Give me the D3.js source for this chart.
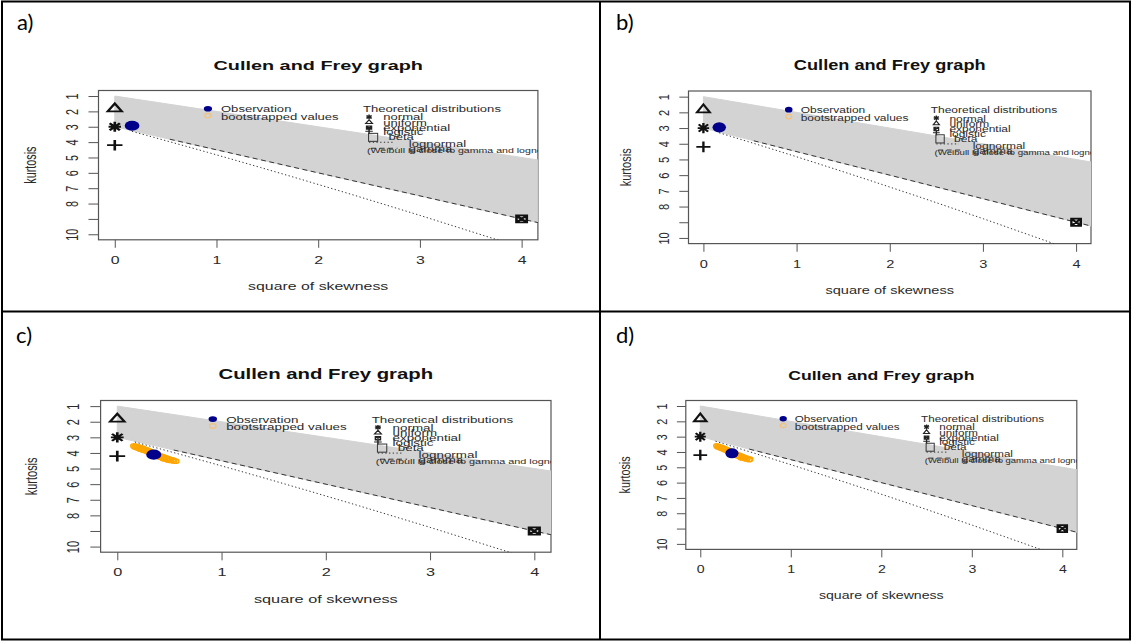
<!DOCTYPE html>
<html>
<head>
<meta charset="utf-8">
<script src="https://cdn.jsdelivr.net/npm/d3@7"></script>
<style>
  html, body { margin: 0; padding: 0; background: #fff; }
  svg { display: block; }
</style>
</head>
<body>
<svg id="fig" width="1132" height="641"></svg>
<script>
// ---------------- data ----------------
const panelLabels = ["a)", "b)", "c)", "d)"];

const skewTicks = [0, 1, 2, 3, 4];
const kurtTicks = [1, 2, 3, 4, 5, 6, 7, 8, 9, 10];
// R drops the "9" label because it collides with "10"
const kurtTickLabels = ["1", "2", "3", "4", "5", "6", "7", "8", "", "10"];

// observed (square of skewness, kurtosis) per panel
const obsSkew2 = [0.17, 0.17, 0.35, 0.35];
const obsKurt  = [2.93, 2.95, 4.11, 4.09];

// bootstrapped (square of skewness, kurtosis) per panel
const bootA = [[0.15, 2.88], [0.16, 2.95], [0.17, 2.90], [0.18, 2.97], [0.19, 2.92], [0.16, 2.99],
               [0.18, 2.86], [0.17, 3.01], [0.15, 2.93], [0.19, 2.96], [0.17, 2.84], [0.18, 2.91]];
const bootB = [[0.15, 2.90], [0.16, 2.97], [0.17, 2.92], [0.18, 2.99], [0.19, 2.94], [0.16, 3.01],
               [0.18, 2.88], [0.17, 3.03], [0.15, 2.95], [0.19, 2.98], [0.17, 2.86], [0.18, 2.93]];
const bootC = [[0.16, 3.55], [0.17, 3.62], [0.18, 3.58], [0.19, 3.66], [0.20, 3.61], [0.21, 3.71],
               [0.22, 3.66], [0.23, 3.76], [0.24, 3.70], [0.25, 3.82], [0.26, 3.75], [0.27, 3.86],
               [0.28, 3.80], [0.29, 3.92], [0.30, 3.86], [0.31, 3.97], [0.32, 3.91], [0.33, 4.03],
               [0.34, 3.98], [0.36, 4.08], [0.37, 4.15], [0.38, 4.10], [0.39, 4.21], [0.40, 4.15],
               [0.41, 4.27], [0.42, 4.20], [0.43, 4.31], [0.44, 4.25], [0.45, 4.37], [0.46, 4.30],
               [0.47, 4.41], [0.48, 4.35], [0.49, 4.45], [0.50, 4.39], [0.51, 4.48], [0.53, 4.44],
               [0.54, 4.51], [0.56, 4.53], [0.22, 3.74], [0.27, 3.79], [0.44, 4.36], [0.48, 4.42]];
const bootD = [[0.18, 3.60], [0.19, 3.66], [0.20, 3.63], [0.21, 3.70], [0.22, 3.66], [0.23, 3.75],
               [0.24, 3.71], [0.25, 3.80], [0.26, 3.76], [0.27, 3.85], [0.28, 3.81], [0.29, 3.91],
               [0.30, 3.86], [0.31, 3.96], [0.32, 3.92], [0.33, 4.02], [0.34, 3.97], [0.36, 4.07],
               [0.37, 4.13], [0.38, 4.09], [0.39, 4.19], [0.40, 4.14], [0.41, 4.24], [0.42, 4.19],
               [0.43, 4.29], [0.44, 4.24], [0.45, 4.34], [0.46, 4.29], [0.47, 4.39], [0.48, 4.34],
               [0.49, 4.43], [0.50, 4.38], [0.51, 4.46], [0.52, 4.42], [0.54, 4.50], [0.55, 4.47],
               [0.25, 3.74], [0.29, 3.86], [0.45, 4.38], [0.49, 4.40]];
const bootSets = [bootA, bootB, bootC, bootD];

// reference distributions drawn as single points
const theoNames = ["normal", "uniform", "exponential", "logistic"];
const theoSkew2 = [0, 0, 4, 0];
const theoKurt  = [3, 1.8, 9, 4.2];
const theoShape = ["asterisk", "triangle", "boxx", "plus"];

// beta region: between kurtosis = 1 + skew² and the gamma line 3 + 1.5·skew²
const betaRegion = [[0, 1], [5, 6], [5, 10.5], [0, 3]];
// gamma line, from shape = e^2 outwards
const gammaLine = [[0.541, 3.812], [5, 10.5]];
// lognormal family traced over log(sigma) in [-2, 2]
const lognormalLogSigma = d3.range(-2, 2.0001, 0.1);

const titleText = "Cullen and Frey graph";
const xTitle = "square of skewness";
const yTitle = "kurtosis";
const obsLegendLabels = ["Observation", "bootstrapped values"];
const theoLegendTitle = "Theoretical distributions";
const theoLegendLabels = ["normal", "uniform", "exponential", "logistic", "beta", "lognormal", "gamma"];
const weibullNote = "(Weibull is close to gamma and lognormal)";

// ---------------- layout ----------------
const FONT = "'Liberation Sans', Arial, Helvetica, sans-serif";
const svg = d3.select("#fig");

// plot boxes [left, right, top, bottom] and label anchors of the four cells
const panelBoxes = [
  [98.5, 537.9, 90.5, 239.8],
  [688.5, 1091.0, 91.0, 243.6],
  [100.6, 551.0, 400.5, 552.2],
  [685.8, 1076.8, 400.5, 549.4]
];
const labelAnchors = [[17, 30], [616, 30], [16, 343], [616, 343]];

// lognormal curve; only the part near the plotting window is kept
const lognormalPts = lognormalLogSigma.map(ls => {
  const s = Math.exp(ls);
  const w = Math.exp(s * s);
  return [(w + 2) * (w + 2) * (w - 1), w ** 4 + 2 * w ** 3 + 3 * w ** 2 - 3];
}).filter(p => p[1] < 40);

function addText(parent, str, x, y, fs, o = {}) {
  let tr = `translate(${x},${y}) scale(${o.sx || 1},1)`;
  if (o.rotate) tr += ` rotate(${o.rotate})`;
  const t = parent.append("text")
    .attr("transform", tr)
    .attr("font-family", FONT)
    .attr("font-size", fs)
    .attr("text-anchor", o.anchor || "start")
    .attr("dy", "0.35em")
    .attr("fill", o.fill || "#2a2a2a")
    .text(str);
  if (o.bold) t.attr("font-weight", "bold");
  return t;
}

function marker(parent, shape, cx, cy, h, sx, sw, color) {
  const g = parent.append("g").attr("transform", `translate(${cx},${cy}) scale(${sx},1)`);
  const p = d3.path();
  if (shape === "asterisk") {
    p.moveTo(-0.85 * h, 0); p.lineTo(0.85 * h, 0);
    p.moveTo(0, -h); p.lineTo(0, h);
    p.moveTo(-0.7 * h, -0.7 * h); p.lineTo(0.7 * h, 0.7 * h);
    p.moveTo(-0.7 * h, 0.7 * h); p.lineTo(0.7 * h, -0.7 * h);
  } else if (shape === "triangle") {
    p.moveTo(0, -0.95 * h); p.lineTo(0.95 * h, 0.6 * h); p.lineTo(-0.95 * h, 0.6 * h); p.closePath();
  } else if (shape === "plus") {
    p.moveTo(-1.05 * h, 0); p.lineTo(1.05 * h, 0);
    p.moveTo(0, -1.05 * h); p.lineTo(0, 1.05 * h);
  } else if (shape === "boxx") {
    const a = 0.7 * h;
    p.rect(-a, -a, 2 * a, 2 * a);
    p.moveTo(-a, -a); p.lineTo(a, a);
    p.moveTo(-a, a); p.lineTo(a, -a);
  }
  g.append("path").attr("d", p.toString())
    .attr("fill", "none").attr("stroke", color || "#111")
    .attr("stroke-width", sw).attr("stroke-linejoin", "miter");
  return g;
}

// ---------------- table frame ----------------
const frame = svg.append("g").attr("stroke", "#000").attr("stroke-width", 2).attr("fill", "none");
frame.append("rect").attr("x", 2).attr("y", 1.5).attr("width", 1128).attr("height", 638);
frame.append("line").attr("x1", 600).attr("x2", 600).attr("y1", 1.5).attr("y2", 639.5);
frame.append("line").attr("x1", 2).attr("x2", 1130).attr("y1", 311.5).attr("y2", 311.5);

// ---------------- panels ----------------
panelBoxes.forEach((box, i) => {
  const [x0, x1, y0, y1] = box;
  const x = d3.scaleLinear().domain([-0.16, 4.16]).range([x0, x1]);
  const y = d3.scaleLinear().domain([0.64, 10.36]).range([y0, y1]);
  const kx = (x1 - x0) / 4.32 / 101.7;     // horizontal size relative to panel a
  const fy = (y1 - y0) / 9.72 / 15.36;     // vertical size relative to panel a
  const sx = 1.47 * kx / fy;               // horizontal stretch of the embedded plot
  const fsTitle = 13.5 * fy, fsAxis = 10.8 * fy, fsLeg = 8.9 * fy, fsNote = 7.2 * fy;

  const g = svg.append("g");

  // cell label
  g.append("text").attr("x", labelAnchors[i][0]).attr("y", labelAnchors[i][1])
    .attr("font-family", "Lato, 'Open Sans', sans-serif").attr("font-size", 22)
    .attr("fill", "#000").text(panelLabels[i]);

  // title and axis titles
  addText(g, titleText, (x0 + x1) / 2, y0 - 25.5 * fy, fsTitle, { sx, anchor: "middle", bold: true, fill: "#111" });
  addText(g, xTitle, (x0 + x1) / 2, y1 + 46 * fy, fsAxis, { sx, anchor: "middle" });
  addText(g, yTitle, x0 - 67.8 * kx, (y0 + y1) / 2, fsAxis, { sx, anchor: "middle", rotate: -90 });

  // axes
  const gx = g.append("g").attr("transform", `translate(0,${y1})`)
    .call(d3.axisBottom(x).tickValues(skewTicks).tickFormat(d3.format("d")).tickSize(8 * fy).tickSizeOuter(0));
  gx.select(".domain").remove();
  gx.attr("color", "#555").attr("font-family", FONT).attr("font-size", fsAxis);
  gx.selectAll(".tick text").attr("y", null).attr("dy", "0.35em").attr("fill", "#2a2a2a")
    .attr("transform", `translate(0,${20 * fy}) scale(${sx},1)`);

  const gy = g.append("g").attr("transform", `translate(${x0},0)`)
    .call(d3.axisLeft(y).tickValues(kurtTicks).tickFormat((d, k) => kurtTickLabels[k]).tickSize(10 * kx).tickSizeOuter(0));
  gy.select(".domain").remove();
  gy.attr("color", "#555").attr("font-family", FONT).attr("font-size", fsAxis);
  gy.selectAll(".tick text").attr("x", null).attr("dy", "0.35em").attr("text-anchor", "middle").attr("fill", "#2a2a2a")
    .attr("transform", `translate(${-26.5 * kx},0) scale(${sx},1) rotate(-90)`);

  // plot box
  g.append("rect").attr("x", x0).attr("y", y0).attr("width", x1 - x0).attr("height", y1 - y0)
    .attr("fill", "none").attr("stroke", "#555").attr("stroke-width", 1.2);

  // clipped plotting region
  const clipId = "plotclip" + i;
  svg.append("clipPath").attr("id", clipId).append("rect")
    .attr("x", x0).attr("y", y0).attr("width", x1 - x0).attr("height", y1 - y0);
  const pg = g.append("g").attr("clip-path", `url(#${clipId})`);

  const line = d3.line().x(d => x(d[0])).y(d => y(d[1]));

  // beta region
  pg.append("path").attr("d", line(betaRegion) + "Z")
    .attr("fill", "#d3d3d3").attr("stroke", "#d3d3d3").attr("stroke-width", 1);
  // lognormal (dotted) and gamma (dashed)
  pg.append("path").attr("d", line(lognormalPts)).attr("fill", "none")
    .attr("stroke", "#333").attr("stroke-width", 1).attr("stroke-dasharray", "1.3,2.4");
  pg.append("path").attr("d", line(gammaLine)).attr("fill", "none")
    .attr("stroke", "#333").attr("stroke-width", 1).attr("stroke-dasharray", "5,3.5");

  // legends
  const lg = pg.append("g");
  // observation / bootstrap legend
  lg.append("ellipse").attr("cx", x(0.916)).attr("cy", y(1.83)).attr("rx", 2.8 * fy * sx).attr("ry", 2.8 * fy)
    .attr("fill", "#00008b");
  lg.append("ellipse").attr("cx", x(0.916)).attr("cy", y(2.27)).attr("rx", 2.2 * fy * sx).attr("ry", 2.2 * fy)
    .attr("fill", "none").attr("stroke", "#f5c07a").attr("stroke-width", 1.2);
  addText(lg, obsLegendLabels[0], x(1.044), y(1.85), fsLeg, { sx });
  addText(lg, obsLegendLabels[1], x(1.044), y(2.35), fsLeg, { sx });

  // theoretical distributions legend
  addText(lg, theoLegendTitle, x(2.44), y(1.86), fsLeg, { sx });
  const symY = [2.36, 2.70, 3.06, 3.30];
  const txtY = [2.39, 2.73, 3.06, 3.34];
  theoShape.forEach((s, k) => {
    marker(lg, s, x(2.5), y(symY[k]), 2.4 * fy, sx, 1, "#222");
    addText(lg, theoLegendLabels[k], x(2.64), y(txtY[k]), fsLeg, { sx });
  });
  // beta square
  lg.append("rect").attr("x", x(2.54) - 3.1 * fy * sx).attr("y", y(3.69) - 4 * fy)
    .attr("width", 6.2 * fy * sx).attr("height", 8 * fy)
    .attr("fill", "none").attr("stroke", "#333").attr("stroke-width", 1);
  addText(lg, theoLegendLabels[4], x(2.69), y(3.69), fsLeg, { sx });
  // lognormal / gamma line samples
  lg.append("line").attr("x1", x(2.50)).attr("x2", x(2.74)).attr("y1", y(4.01)).attr("y2", y(4.01))
    .attr("stroke", "#333").attr("stroke-dasharray", "1.3,2.4");
  addText(lg, theoLegendLabels[5], x(2.89), y(4.12), fsLeg, { sx });
  lg.append("line").attr("x1", x(2.52)).attr("x2", x(2.78)).attr("y1", y(4.40)).attr("y2", y(4.40))
    .attr("stroke", "#333").attr("stroke-dasharray", "5,3.5");
  addText(lg, theoLegendLabels[6], x(2.89), y(4.47), fsLeg, { sx });
  addText(lg, weibullNote, x(2.48), y(4.53), fsNote, { sx });

  // bootstrapped values
  pg.append("g").selectAll("ellipse").data(bootSets[i]).join("ellipse")
    .attr("cx", d => x(d[0])).attr("cy", d => y(d[1]))
    .attr("rx", 2.2 * fy * sx).attr("ry", 2.2 * fy)
    .attr("fill", "none").attr("stroke", "#ffa500").attr("stroke-width", 1.3);

  // observation
  pg.append("ellipse").attr("cx", x(obsSkew2[i])).attr("cy", y(obsKurt[i]))
    .attr("rx", 5 * fy * sx).attr("ry", 5 * fy).attr("fill", "#00008b");

  // reference points
  theoShape.forEach((s, k) => {
    marker(pg, s, x(theoSkew2[k]), y(theoKurt[k]), 5 * fy, sx, 1.8, "#111");
  });
});
</script>
</body>
</html>
